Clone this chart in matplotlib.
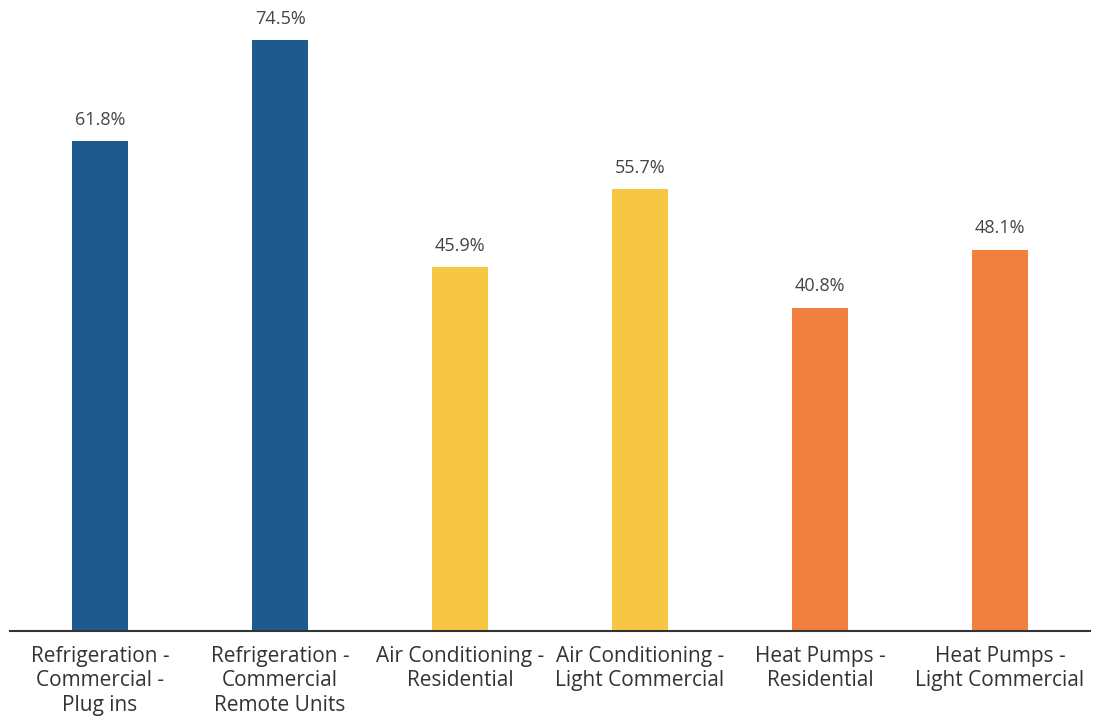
import matplotlib
matplotlib.use("Agg")
import matplotlib.pyplot as plt

categories = [
    "Refrigeration -\nCommercial -\nPlug ins",
    "Refrigeration -\nCommercial\nRemote Units",
    "Air Conditioning -\nResidential",
    "Air Conditioning -\nLight Commercial",
    "Heat Pumps -\nResidential",
    "Heat Pumps -\nLight Commercial",
]
values = [61.8, 74.5, 45.9, 55.7, 40.8, 48.1]
colors = ["#1F5A8F", "#1F5A8F", "#F7C744", "#F7C744", "#F07F40", "#F07F40"]

plt.rcParams['font.family'] = ['Open Sans', 'DejaVu Sans']

fig = plt.figure(figsize=(10.94, 7.18), dpi=100)
ax = fig.add_axes([10/1094, (718-631)/718, 1080/1094, 631/718])

x = range(len(categories))
bars = ax.bar(x, values, width=0.31, color=colors)
for xi, v in zip(x, values):
    ax.annotate(f"{v}%", (xi, v), xytext=(0, 9), textcoords="offset points",
                ha="center", va="bottom", fontsize=13, color="#444444")

ax.set_xlim(-0.5, 5.5)
ax.set_ylim(0, 79.6)
ax.set_xticks(list(x))
ax.set_xticklabels(categories, fontsize=15, color="#333333", linespacing=1.2)
ax.tick_params(axis="x", length=0, pad=11)
ax.set_yticks([])
for s in ["top", "right", "left"]:
    ax.spines[s].set_visible(False)
ax.spines["bottom"].set_color("#333333")
ax.spines["bottom"].set_linewidth(1.5)

fig.savefig("out.png", dpi=100)
